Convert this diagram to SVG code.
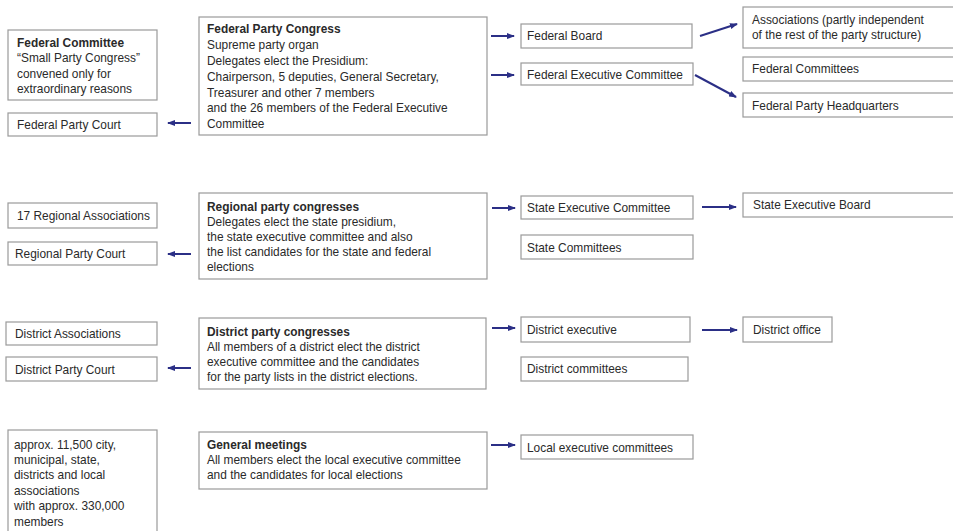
<svg xmlns="http://www.w3.org/2000/svg" width="953" height="531" viewBox="0 0 953 531">
<defs>
<marker id="ah" markerWidth="8" markerHeight="6" refX="7" refY="3" orient="auto" markerUnits="userSpaceOnUse">
<path d="M0,0 L8,3 L0,6 Z" fill="#2b2f86"/>
</marker>
<style>
rect{fill:#fff;stroke:#9a9a9a;stroke-width:1.2}
text{font-family:"Liberation Sans",Arial,sans-serif;font-size:11.9px;fill:#2a2a2a}
.b{font-weight:bold}
.c line{stroke:#2b2f86;stroke-width:2;marker-end:url(#ah)}
</style>
</defs>
<rect x="0" y="0" width="953" height="531" style="fill:#fff;stroke:none"/>

<g id="federal-committee"><rect x="8" y="30" width="149" height="70"/>
<text x="17" y="47" class="b">Federal Committee</text>
<text x="17" y="62">“Small Party Congress”</text>
<text x="17" y="78">convened only for</text>
<text x="17" y="93">extraordinary reasons</text></g>
<g id="federal-party-court"><rect x="8" y="113" width="149" height="23"/><text x="17" y="129">Federal Party Court</text></g>
<g id="federal-party-congress"><rect x="199" y="17" width="288" height="118"/>
<text x="207" y="33" class="b">Federal Party Congress</text>
<text x="207" y="49">Supreme party organ</text>
<text x="207" y="65">Delegates elect the Presidium:</text>
<text x="207" y="81">Chairperson, 5 deputies, General Secretary,</text>
<text x="207" y="97">Treasurer and other 7 members</text>
<text x="207" y="112">and the 26 members of the Federal Executive</text>
<text x="207" y="128">Committee</text></g>
<g id="federal-board"><rect x="521" y="24" width="171" height="24"/><text x="527" y="40">Federal Board</text></g>
<g id="federal-executive-committee"><rect x="521" y="63" width="172" height="22"/><text x="527" y="79">Federal Executive Committee</text></g>
<g id="associations"><rect x="743" y="7" width="220" height="41"/>
<text x="752" y="24">Associations (partly independent</text>
<text x="752" y="39">of the rest of the party structure)</text></g>
<g id="federal-committees"><rect x="743" y="57" width="220" height="24"/><text x="752" y="73">Federal Committees</text></g>
<g id="federal-party-headquarters"><rect x="743" y="93" width="220" height="24"/><text x="752" y="110">Federal Party Headquarters</text></g>

<g id="regional-associations"><rect x="8" y="203" width="149" height="25"/><text x="17" y="220">17 Regional Associations</text></g>
<g id="regional-party-court"><rect x="8" y="242" width="149" height="23"/><text x="15" y="258">Regional Party Court</text></g>
<g id="regional-party-congresses"><rect x="199" y="193" width="288" height="86"/>
<text x="207" y="211" class="b">Regional party congresses</text>
<text x="207" y="226">Delegates elect the state presidium,</text>
<text x="207" y="241">the state executive committee and also</text>
<text x="207" y="256">the list candidates for the state and federal</text>
<text x="207" y="271">elections</text></g>
<g id="state-executive-committee"><rect x="521" y="196" width="172" height="23"/><text x="527" y="212">State Executive Committee</text></g>
<g id="state-committees"><rect x="521" y="235" width="172" height="24"/><text x="527" y="252">State Committees</text></g>
<g id="state-executive-board"><rect x="743" y="193" width="220" height="24"/><text x="753" y="209">State Executive Board</text></g>

<g id="district-associations"><rect x="6" y="322" width="151" height="23"/><text x="15" y="338">District Associations</text></g>
<g id="district-party-court"><rect x="6" y="357" width="151" height="24"/><text x="15" y="374">District Party Court</text></g>
<g id="district-party-congresses"><rect x="199" y="318" width="287" height="71"/>
<text x="207" y="336" class="b">District party congresses</text>
<text x="207" y="351">All members of a district elect the district</text>
<text x="207" y="366">executive committee and the candidates</text>
<text x="207" y="381">for the party lists in the district elections.</text></g>
<g id="district-executive"><rect x="521" y="317" width="169" height="25"/><text x="527" y="334">District executive</text></g>
<g id="district-committees"><rect x="521" y="357" width="167" height="24"/><text x="527" y="373">District committees</text></g>
<g id="district-office"><rect x="743" y="317" width="89" height="25"/><text x="753" y="334">District office</text></g>

<g id="local-associations"><rect x="8" y="430" width="149" height="110"/>
<text x="14" y="449">approx. 11,500 city,</text>
<text x="14" y="464">municipal, state,</text>
<text x="14" y="479">districts and local</text>
<text x="14" y="495">associations</text>
<text x="14" y="510">with approx. 330,000</text>
<text x="14" y="526">members</text></g>
<g id="general-meetings"><rect x="199" y="432" width="288" height="57"/>
<text x="207" y="449" class="b">General meetings</text>
<text x="207" y="464">All members elect the local executive committee</text>
<text x="207" y="479">and the candidates for local elections</text></g>
<g id="local-executive-committees"><rect x="521" y="435" width="172" height="24"/><text x="527" y="452">Local executive committees</text></g>

<g id="connectors" class="c">
<line x1="191" y1="123" x2="168" y2="123"/>
<line x1="491" y1="36" x2="514" y2="36"/>
<line x1="491" y1="75" x2="514" y2="75"/>
<line x1="700" y1="36" x2="737" y2="24"/>
<line x1="695" y1="75" x2="736" y2="97"/>
<line x1="191" y1="254" x2="168" y2="254"/>
<line x1="492" y1="208" x2="515" y2="208"/>
<line x1="702" y1="207" x2="736" y2="207"/>
<line x1="191" y1="368" x2="168" y2="368"/>
<line x1="492" y1="328" x2="515" y2="328"/>
<line x1="702" y1="330" x2="737" y2="330"/>
<line x1="491" y1="445" x2="515" y2="445"/>
</g>
</svg>
